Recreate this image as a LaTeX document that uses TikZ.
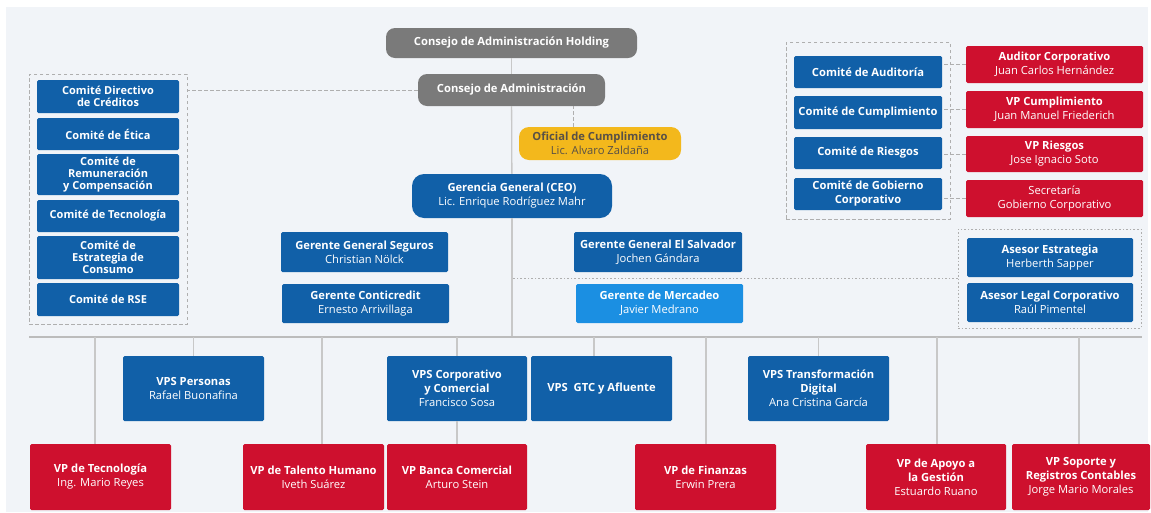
\documentclass[tikz,border=0pt]{standalone}
\usepackage{fontspec}
\setmainfont{Open Sans}
\definecolor{corpblue}{RGB}{17,96,168}
\definecolor{lightblue}{RGB}{27,143,226}
\definecolor{corpred}{RGB}{206,16,46}
\definecolor{boardgray}{RGB}{122,122,122}
\definecolor{gold}{RGB}{243,184,28}
\definecolor{goldtext}{RGB}{88,80,70}
\definecolor{pagebg}{RGB}{241,244,248}
\definecolor{linegray}{RGB}{200,200,200}
\definecolor{bargray}{RGB}{188,188,188}
\definecolor{dashgray}{RGB}{175,175,175}
\newcommand\pname[1]{{\mdseries #1}}
\begin{document}
\begin{tikzpicture}[x=1pt,y=-1pt,
  box/.style={rectangle, rounded corners=1.5pt, inner sep=1pt, align=center,
    text=white, font=\fontsize{11.2}{14}\selectfont\bfseries, draw=none},
  bluebox/.style={box, fill=corpblue},
  lightbox/.style={box, fill=lightblue},
  redbox/.style={box, fill=corpred},
  pill/.style={box, fill=boardgray, rounded corners=9pt},
  goldbox/.style={box, fill=gold, rounded corners=10pt, text=goldtext},
  ceobox/.style={box, fill=corpblue, rounded corners=12pt},
  tight/.style={font=\fontsize{11}{12}\selectfont\bfseries},
  grpbox/.style={rectangle, draw=dashgray, line width=0.9pt, dash pattern=on 3.5pt off 2.5pt},
  dotbox/.style={rectangle, draw=dashgray, line width=0.9pt, dash pattern=on 1.6pt off 2pt},
  link/.style={draw=linegray, line width=1.3pt},
  barline/.style={draw=bargray, line width=1.8pt},
  dlink/.style={draw=dashgray, line width=0.9pt, dash pattern=on 3.5pt off 2.5pt},
  dotlink/.style={draw=dashgray, line width=0.9pt, dash pattern=on 1.6pt off 2pt}]

\useasboundingbox (0,0) rectangle (1151,512);
\fill[white] (0,0) rectangle (1151,512);
\fill[pagebg] (6,7) rectangle (1148,512);

% board and general management
\node[pill, minimum width=251pt, minimum height=30pt] (hold) at (511.5,43) {Consejo de Administración Holding};
\node[pill, minimum width=187pt, minimum height=32pt] (consejo) at (511.5,90) {Consejo de Administración};
\node[goldbox, minimum width=162pt, minimum height=33pt] (oficial) at (600,143.5) {Oficial de Cumplimiento\\\pname{Lic. Alvaro Zaldaña}};
\node[ceobox, minimum width=200pt, minimum height=44pt] (ceo) at (512,196) {Gerencia General (CEO)\\\pname{Lic. Enrique Rodríguez Mahr}};

\node[bluebox, minimum width=167pt, minimum height=40pt] (seguros) at (364.5,252) {Gerente General Seguros\\\pname{Christian Nölck}};
\node[bluebox, minimum width=167pt, minimum height=39pt] (conti) at (365.5,303.5) {Gerente Conticredit\\\pname{Ernesto Arrivillaga}};
\node[bluebox, minimum width=168pt, minimum height=40pt] (elsal) at (658,252) {Gerente General El Salvador\\\pname{Jochen Gándara}};
\node[lightbox, minimum width=167pt, minimum height=39pt] (merc) at (659.5,303.5) {Gerente de Mercadeo\\\pname{Javier Medrano}};

% board committees, left group
\node[grpbox, minimum width=158pt, minimum height=250pt] (leftgrp) at (108,199) {};
\node[bluebox, tight, minimum width=142pt, minimum height=33pt] (c1) at (108,96.5) {Comité Directivo\\de Créditos};
\node[bluebox, tight, minimum width=142pt, minimum height=32pt] (c2) at (108,134) {Comité de Ética};
\node[bluebox, tight, minimum width=142pt, minimum height=41pt] (c3) at (108,174.5) {Comité de\\Remuneración\\y Compensación};
\node[bluebox, tight, minimum width=142pt, minimum height=32pt] (c4) at (108,216) {Comité de Tecnología};
\node[bluebox, tight, minimum width=142pt, minimum height=43pt] (c5) at (108,257.5) {Comité de\\Estrategia de\\Consumo};
\node[bluebox, tight, minimum width=142pt, minimum height=33pt] (c6) at (108,299.5) {Comité de RSE};

% board committees, right group
\node[grpbox, minimum width=164pt, minimum height=177pt] (rightgrp) at (868,130.5) {};
\node[bluebox, minimum width=148pt, minimum height=32pt] (r1) at (868,72) {Comité de Auditoría};
\node[bluebox, minimum width=148pt, minimum height=33pt] (r2) at (868,112.5) {Comité de Cumplimiento};
\node[bluebox, minimum width=148pt, minimum height=32pt] (r3) at (868,153) {Comité de Riesgos};
\node[bluebox, minimum width=148pt, minimum height=32pt] (r4) at (868,194) {Comité de Gobierno\\Corporativo};
\node[redbox, minimum width=177pt, minimum height=37pt] (a1) at (1054.5,64.5) {Auditor Corporativo\\\pname{Juan Carlos Hernández}};
\node[redbox, minimum width=177pt, minimum height=37pt] (a2) at (1054.5,109.5) {VP Cumplimiento\\\pname{Juan Manuel Friederich}};
\node[redbox, minimum width=177pt, minimum height=36pt] (a3) at (1054.5,154) {VP Riesgos\\\pname{Jose Ignacio Soto}};
\node[redbox, minimum width=177pt, minimum height=37pt] (a4) at (1054.5,198.5) {\pname{Secretaría}\\\pname{Gobierno Corporativo}};

% advisors
\node[dotbox, minimum width=183pt, minimum height=99pt] (advgrp) at (1049.5,278.5) {};
\node[bluebox, minimum width=166pt, minimum height=39pt] (s1) at (1050,257.5) {Asesor Estrategia\\\pname{Herberth Sapper}};
\node[bluebox, minimum width=166pt, minimum height=39pt] (s2) at (1050,302.5) {Asesor Legal Corporativo\\\pname{Raúl Pimentel}};

% executive vice presidencies
\node[bluebox, minimum width=141pt, minimum height=65pt] (vpsp) at (193.5,388.5) {VPS Personas\\\pname{Rafael Buonafina}};
\node[bluebox, minimum width=140pt, minimum height=65pt] (vpsc) at (457,388.5) {VPS Corporativo\\y Comercial\\\pname{Francisco Sosa}};
\node[bluebox, minimum width=141pt, minimum height=65pt] (vpsg) at (601.5,388.5) {VPS\ \ GTC y Afluente};
\node[bluebox, minimum width=141pt, minimum height=65pt] (vpst) at (818.5,388.5) {VPS Transformación\\Digital\\\pname{Ana Cristina García}};

% vice presidencies
\node[redbox, minimum width=141pt, minimum height=66pt] (tec) at (100.5,477) {VP de Tecnología\\\pname{Ing. Mario Reyes}};
\node[redbox, minimum width=141pt, minimum height=66pt] (tal) at (313.5,477) {VP de Talento Humano\\\pname{Iveth Suárez}};
\node[redbox, minimum width=140pt, minimum height=66pt] (banca) at (457,477) {VP Banca Comercial\\\pname{Arturo Stein}};
\node[redbox, minimum width=141pt, minimum height=66pt] (fin) at (705.5,477) {VP de Finanzas\\\pname{Erwin Prera}};
\node[redbox, minimum width=140pt, minimum height=66pt] (apoyo) at (936,477) {VP de Apoyo a\\la Gestión\\\pname{Estuardo Ruano}};
\node[redbox, minimum width=138pt, minimum height=66pt] (sop) at (1081,477) {VP Soporte y\\Registros Contables\\\pname{Jorge Mario Morales}};

% reporting lines
\coordinate (barL) at (29,337);
\coordinate (barR) at (1142,337);
\draw[link] (hold) -- (consejo);
\draw[link] (consejo) -- (ceo);
\draw[link] (ceo.south) -- (ceo.south |- barL);
\draw[barline] (barL) -- (barR);
\draw[dlink] (consejo.west) -- (consejo.west -| leftgrp.east);
\draw[dlink] ([xshift=-27pt]oficial.north) -- ([xshift=-27pt]oficial.north |- consejo.south);
\draw[dotlink] (advgrp.west) -- (advgrp.west -| ceo.south);
\draw[dlink] (a1.west) -- (a1.west -| r1.east);
\draw[dlink] (a2.west) -- (a2.west -| r2.east);
\draw[dlink] (a3.west) -- (a3.west -| r3.east);
\draw[dlink] (a4.west) -- (a4.west -| r4.east);

\coordinate (t1) at (95,337);
\coordinate (t2) at (193.5,337);
\coordinate (t3) at (322,337);
\coordinate (t4) at (457,337);
\coordinate (t5) at (594,337);
\coordinate (t6) at (706,337);
\coordinate (t7) at (818.5,337);
\coordinate (t8) at (937,337);
\coordinate (t9) at (1079,337);
\draw[link] (t1) -- (t1 |- tec.north);
\draw[link] (t2) -- (t2 |- vpsp.north);
\draw[link] (t3) -- (t3 |- tal.north);
\draw[link] (t4) -- (t4 |- vpsc.north);
\draw[link] (vpsc) -- (banca);
\draw[link] (t5) -- (t5 |- vpsg.north);
\draw[link] (t6) -- (t6 |- fin.north);
\draw[link] (t7) -- (t7 |- vpst.north);
\draw[link] (t8) -- (t8 |- apoyo.north);
\draw[link] (t9) -- (t9 |- sop.north);
\end{tikzpicture}
\end{document}
